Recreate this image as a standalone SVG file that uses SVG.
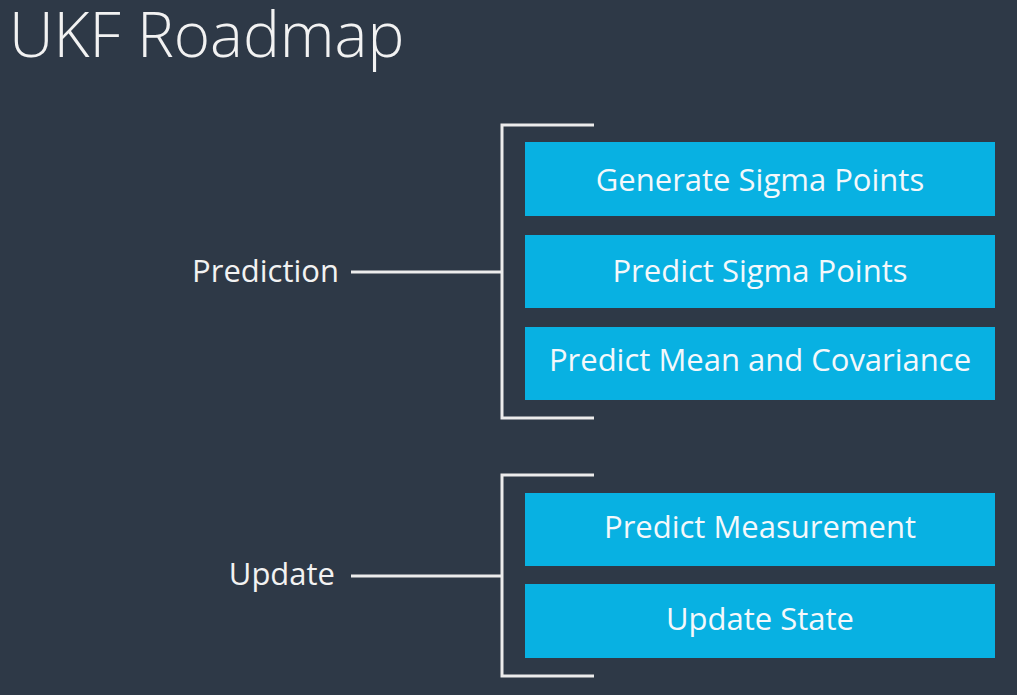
<svg xmlns="http://www.w3.org/2000/svg" width="1017" height="695" viewBox="0 0 1017 695">
<style>
.bg{fill:#2e3947}
.box{fill:#08b1e2}
.bt{font-family:"Open Sans","Liberation Sans",sans-serif;font-size:31px;fill:#f4f8fb;text-anchor:middle}
.lbl{font-family:"Open Sans","Liberation Sans",sans-serif;font-size:31px;fill:#f2f2f2;text-anchor:end}
.ln{stroke:#ececec;stroke-width:3;fill:none}
</style>
<rect class="bg" x="0" y="0" width="1017" height="695"/>
<text x="9" y="57" font-family="'Open Sans','Liberation Sans',sans-serif" font-weight="300" font-size="62" fill="#f2f2f2">UKF Roadmap</text>
<g id="connectors">
<path class="ln" d="M594,125 H502 V418 H594"/>
<path class="ln" d="M351,272 H502"/>
<path class="ln" d="M594,475 H502 V676 H594"/>
<path class="ln" d="M351,576 H502"/>
</g>
<g id="prediction"><text class="lbl" x="339" y="282">Prediction</text></g>
<g id="update"><text class="lbl" x="335" y="585">Update</text></g>
<g id="generate"><rect class="box" x="525" y="142" width="470" height="74"/><text class="bt" x="760" y="191">Generate Sigma Points</text></g>
<g id="predictsigma"><rect class="box" x="525" y="235" width="470" height="73"/><text class="bt" x="760" y="282">Predict Sigma Points</text></g>
<g id="predictmean"><rect class="box" x="525" y="327" width="470" height="73"/><text class="bt" x="760" y="371">Predict Mean and Covariance</text></g>
<g id="predictmeas"><rect class="box" x="525" y="493" width="470" height="73"/><text class="bt" x="760" y="538">Predict Measurement</text></g>
<g id="updatestate"><rect class="box" x="525" y="584" width="470" height="74"/><text class="bt" x="760" y="630">Update State</text></g>
</svg>
